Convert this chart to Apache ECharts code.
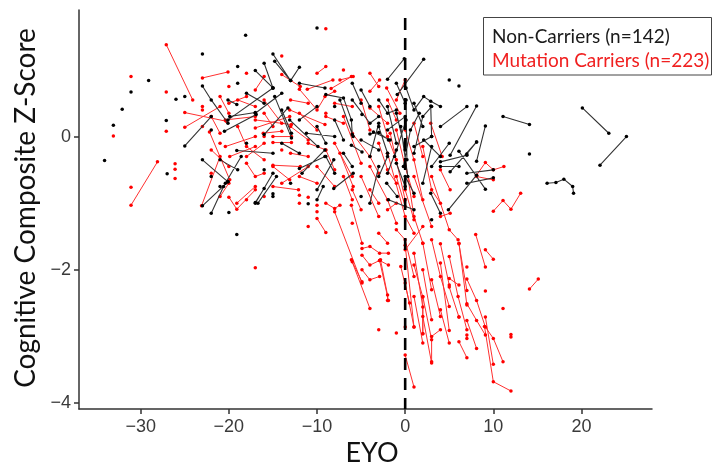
<!DOCTYPE html>
<html><head><meta charset="utf-8">
<script src="https://cdn.jsdelivr.net/npm/echarts@6/dist/echarts.min.js"></script>
<style>html,body{margin:0;padding:0;background:#fff}#c{width:713px;height:467px}</style>
</head><body><div id="c"></div>
<script>
const xTicks = [-30, -20, -10, 0, 10, 20];
const yTicks = [-4, -2, 0];
const legendLabels = ['Non-Carriers (n=142)', 'Mutation Carriers (n=223)'];
const xTitle = 'EYO';
const yTitle = 'Cognitive Composite Z-Score';
const onsetLine = [[0, 1.78], [0, -4.09]];

// Each track: one participant's visits [EYO, z]
const nonCarrierTracks = [
 [[-34.1,-0.36]],[[-33.1,0.17]],[[-32.1,0.41]],[[-31.1,0.67]],[[-29.1,0.84]],
 [[-27.1,0.24]],[[-26.0,0.56]],[[-25.0,0.60]],[[-27.0,-0.56]],[[-23.0,1.24]],
 [[-19.0,1.05]],[[-18.1,1.52]],[[-10.0,1.63]],
 [[-25.0,-0.14],[-22.0,0.30]],
 [[-23.0,0.76],[-22.0,0.55],[-20.1,0.20]],
 [[-23.0,-0.35],[-20.1,-0.68]],
 [[-23.0,-1.04],[-20.1,-0.68]],
 [[-22.0,-1.15],[-20.6,-0.75]],
 [[-20.0,-1.14]],[[-19.1,-1.47]],
 [[-17.0,-0.99],[-16.0,-0.78]],
 [[-15.0,-0.86]],[[-15.0,-0.90]],[[-11.0,-1.01]],
 [[-10.0,-0.95],[-9.3,-0.75]],
 [[-17.0,0.99],[-15.0,0.73]],
 [[-15.0,1.24],[-13.0,0.84]],
 [[-14.8,1.13],[-13.0,0.84]],
 [[-16.0,1.10],[-15.0,0.73]],
 [[-13.0,0.84],[-12.0,1.04]],
 [[-20.1,0.25],[-15.0,0.73]],
 [[-12.0,0.80],[-9.1,0.73]],
 [[-16.0,0.03],[-13.3,0.43]],
 [[-19.1,-0.21],[-15.0,-0.25]],
 [[-11.2,0.05],[-8.0,0.0]],
 [[-16.7,-1.0],[-14.6,-0.6]],
 [[-20.5,0.08],[-16.9,0.33]],
 [[-19.9,0.30],[-17.0,0.36]],
 [[-14.8,0.60],[-12.9,-0.02]],
 [[-17.0,-1.0],[-15.0,-0.55]],
 [[-9.0,0.63],[-7.0,0.58],[-6.1,0.25],[-6.0,0.03]],
 [[-10.0,-0.80],[-8.1,-0.35]],
 [[-8.1,-0.78],[-5.9,-0.55]],
 [[-4.9,0.33]],
 [[-4.0,0.04],[-3.0,0.06],[-1.9,-0.05]],
 [[-4.0,-1.0],[-3.0,-0.45]],
 [[-2.1,-0.70],[-0.9,-0.90]],
 [[-2.0,0.86],[-0.1,1.17]],
 [[-0.9,0.63],[2.1,1.16]],
 [[0.1,0.73],[1.0,0.40],[2.1,0.60],[2.9,0.53],[4.0,0.45]],
 [[2.9,0.46],[3.0,0.0]],
 [[4.0,0.15],[7.0,0.45]],
 [[5.1,-0.28],[8.1,0.46]],
 [[8.1,-0.37],[9.1,0.16]],
 [[6.1,0.76]],
 [[11.1,0.30],[14.1,0.18]],
 [[14.1,-0.26]],
 [[20.1,0.43],[23.1,0.05]],
 [[22.1,-0.43],[25.1,0.0]],
 [[16.1,-0.70],[17.1,-0.69],[18.0,-0.64],[19.0,-0.75],[19.1,-0.85]],
 [[5.1,-0.53],[8.1,-0.08]],
 [[6.1,-0.22],[9.1,-0.79]],
 [[7.0,-0.55],[10.0,-0.50]],
 [[7.0,-0.70],[10.0,-0.62]],
 [[4.9,-1.10],[8.1,-0.58]],
 [[4.0,-0.45],[6.1,-0.45]],
 [[2.9,-0.85],[4.0,-1.15]],
 [[-1.9,-0.95],[1.0,-1.10]],
 [[7.0,-0.26],[8.1,-0.08]],
 [[-7.4,0.55],[-5.9,0.0]],
 [[-3.6,0.07],[-1.7,-0.05]],
 [[-6.1,-0.13],[-4.9,-0.23]],
 [[1.0,-0.15],[3.0,0.0]],
 [[2.1,-0.05],[4.0,-0.30]],
 [[4.0,-0.38],[7.0,-0.28]],
 [[-20.1,0.55],[-19.1,0.48]],
 [[-17.0,0.35],[-14.0,0.65]],
 [[-12.0,-0.48],[-9.1,-0.30]],
 [[-20.4,-0.70],[-18.6,-0.30]],
 [[-11.7,-0.55],[-9.1,-0.20]],
 [[-13.1,0.25],[-9.9,-0.15]],
 [[-14.0,0.40],[-12.9,0.05]],
 [[-1.0,0.35],[0.0,-0.20]],
 [[-0.5,0.15],[0.3,-0.60]],
 [[-2.0,0.45],[-1.0,-0.10]],
 [[0.1,0.55],[0.2,-0.35]],
 [[-1.2,-0.30],[0.1,0.25]],
 [[-0.2,-0.45],[0.6,0.10],[1.6,0.35]],
 [[1.0,-0.25],[2.0,0.30],[3.0,0.45]],
 [[2.0,-0.70],[3.0,-0.15]],
 [[-3.0,0.15],[-2.0,-0.25]],
 [[-4.0,-0.30],[-3.0,0.20]],
 [[-6.0,0.80],[-5.0,0.50]],
 [[-8.0,0.25],[-7.0,-0.05]],
 [[-9.0,-0.30],[-8.0,-0.55]],
 [[-3.0,-0.60],[-2.0,-0.30]],
 [[0.0,-0.60],[1.0,-0.85]],
 [[-1.0,-0.40],[0.0,-0.75]],
 [[-6.0,0.55],[-4.0,0.20],[-3.0,0.30]],
 [[-5.0,0.70],[-4.0,0.45]],
 [[-3.0,0.55],[-2.0,0.35],[-1.0,0.40]],
 [[-2.0,0.10],[0.0,0.30]],
 [[-1.0,0.80],[0.0,0.50]],
 [[-12.0,0.25],[-10.0,0.45]],
 [[-14.0,-0.10],[-12.0,-0.25]],
 [[-10.0,0.15],[-9.0,-0.10]],
 [[-7.0,-0.25],[-6.0,-0.45]],
 [[-5.0,-0.05],[-3.0,-0.20]],
 [[-18.0,0.65],[-16.0,0.50]],
 [[-21.0,-0.35],[-19.0,-0.50]],
 [[-2.0,-0.55],[-1.0,-0.20]],
 [[1.0,0.50],[2.0,0.15]],
 [[3.0,-0.45],[5.0,-0.10]],
 [[-22.0,-0.60]],[[-21.0,-0.75]],[[-22.0,0.10]],[[-19.0,0.80]],[[-18.0,-0.10]],
 [[-16.0,-0.50]],[[-13.0,-0.70]],[[-8.0,0.45]],[[-5.0,-0.90]],[[3.0,-1.25]],[[5.0,0.85]]
];

const carrierTracks = [
 [[-27.1,1.38],[-24.1,0.55]],
 [[-31.1,0.90]],[[-27.1,0.67]],[[-33.1,0.01]],[[-27.1,0.08]],
 [[-31.1,-1.03],[-28.1,-0.38]],
 [[-31.1,-0.76]],[[-26.1,-0.41]],[[-26.1,-0.49]],[[-26.1,-0.63]],
 [[-25.0,0.36],[-20.3,0.23]],
 [[-25.0,0.14],[-21.0,0.45]],
 [[-23.0,0.88],[-20.1,0.97]],
 [[-14.0,1.21]],[[-9.0,1.62]],
 [[-23.1,-1.04],[-21.0,-0.30]],
 [[-22.2,0.07],[-19.9,-0.65]],
 [[-20.0,-0.91],[-19.1,-1.09],[-17.0,-0.80]],
 [[-16.0,-0.90]],[[-17.0,-1.97]],[[-12.0,-0.88]],[[-11.0,-0.91]],[[-11.0,-1.35]],
 [[-10.0,-1.03]],[[-10.0,-1.13]],
 [[-10.0,-1.23],[-9.0,-1.44]],
 [[-9.0,-1.0],[-8.0,-1.08],[-7.4,-1.03]],
 [[-20.4,0.25],[-17.0,0.30]],
 [[-17.0,0.25],[-12.9,0.18]],
 [[-13.1,0.40],[-9.1,0.18]],
 [[-15.0,0.0],[-12.9,0.0]],
 [[-15.0,-0.09],[-12.9,-0.09]],
 [[-20.4,-0.15],[-17.0,0.0]],
 [[-15.0,-0.43],[-11.9,-0.45]],
 [[-14.0,-0.70],[-11.0,-0.45]],
 [[-15.0,-0.75],[-12.1,-0.80]],
 [[-19.1,-1.0],[-17.0,-0.75]],
 [[-12.0,0.71],[-10.0,0.40],[-9.1,0.60],[-8.0,0.68]],
 [[-11.1,0.71],[-8.2,0.85]],
 [[-8.4,0.72],[-6.1,0.90]],
 [[-4.0,0.68],[-2.9,0.85]],
 [[-14.0,0.93],[-11.9,0.75]],
 [[-19.9,-0.30],[-17.0,-0.15]],
 [[-16.1,0.05],[-14.0,0.08]],
 [[-17.0,0.13],[-13.1,0.30]],
 [[-15.0,-0.45],[-13.1,-0.65]],
 [[-2.1,0.73],[-0.6,0.35]],
 [[-4.0,0.43],[-2.0,0.20]],
 [[8.1,-0.58],[9.1,-0.39],[10.0,-0.50],[11.2,-0.45]],
 [[8.1,-0.60],[10.0,-0.65]],
 [[10.0,-1.12],[11.1,-0.96],[12.0,-1.09],[13.1,-0.85]],
 [[8.0,-1.47],[9.1,-1.96]],
 [[9.1,-1.70],[10.0,-1.84]],
 [[14.1,-2.29],[15.1,-2.14]],
 [[9.1,-2.32]],[[11.1,-2.58]],
 [[12.0,-2.97],[12.0,-3.01]],
 [[7.0,-2.14],[8.1,-2.46],[9.1,-2.86],[10.0,-3.03],[11.1,-3.38]],
 [[7.0,-2.51],[8.1,-2.76],[9.1,-2.98]],
 [[9.1,-2.71],[10.0,-3.42]],
 [[9.0,-2.85],[10.0,-3.68],[12.0,-3.82]],
 [[6.1,-1.61],[7.0,-2.31]],
 [[7.0,-1.96]],
 [[7.0,-2.76],[8.1,-3.18]],
 [[6.1,-2.71]],
 [[6.1,-3.08],[7.0,-3.32]],
 [[7.0,-2.98],[7.0,-3.03]],
 [[0.0,-3.28],[1.0,-3.76]],
 [[-3.0,-2.90]],[[-1.0,-2.95]],
 [[4.0,-1.61],[5.0,-2.23]],
 [[4.0,-1.90],[5.0,-2.91]],
 [[2.0,-1.6],[3.0,-2.3]],
 [[2.0,-2.0],[3.0,-2.75]],
 [[2.0,-2.4],[3.0,-3.05],[3.0,-3.38]],
 [[1.0,-1.75],[2.0,-2.56],[2.0,-2.96]],
 [[0.0,-1.63],[1.0,-2.86]],
 [[-8.0,-1.13],[-4.9,-2.20]],
 [[-6.1,-1.03],[-4.9,-1.60]],
 [[-6.1,-1.85],[-4.0,-2.58]],
 [[-4.9,-1.68],[-4.0,-1.65],[-2.9,-1.75],[-1.9,-1.75]],
 [[-4.9,-1.78],[-4.0,-1.93],[-2.9,-1.86],[-1.9,-1.93]],
 [[-4.9,-2.0],[-4.0,-2.15],[-2.9,-2.10]],
 [[-2.9,-1.86],[-1.9,-2.46]],
 [[-2.8,-1.85],[-2.0,-2.38],[-2.0,-2.46]],
 [[-6.0,-1.88],[-4.9,-2.18]],
 [[0.0,-1.70],[2.0,-1.35]],
 [[6.1,-1.60],[7.0,-2.53]],
 [[5.0,-2.13],[6.1,-2.23]],
 [[1.0,-1.93],[2.0,-2.41],[2.0,-2.96]],
 [[0.0,-2.2],[1.0,-2.86]],
 [[0.0,-2.86]],
 [[3.0,-3.0],[4.0,-2.9]],
 [[5.0,-2.26],[6.1,-2.71]],
 [[-7.4,-0.25],[-5.9,-0.75]],
 [[-1.7,0.05],[0.0,-0.95]],
 [[-7.4,0.85],[-5.9,0.90]],
 [[2.9,0.20],[4.2,-0.30]],
 [[4.0,-0.50],[5.1,-0.80]],
 [[4.0,-1.20],[5.1,-1.15]],
 [[-23.0,0.45]],[[-23.0,0.40]],
 [[-8.0,-0.10],[-6.0,-0.60]],
 [[-7.0,0.30],[-5.0,-0.40]],
 [[-6.0,0.05],[-4.0,-0.30],[-3.0,-0.55]],
 [[-5.0,0.55],[-4.0,0.10]],
 [[-5.0,-0.60],[-3.0,-1.20]],
 [[-4.0,-0.45],[-2.0,-0.95],[-1.0,-1.30]],
 [[-3.0,-0.10],[-2.0,-0.50],[-1.0,-0.70]],
 [[-3.0,0.45],[-2.0,0.0],[-1.0,-0.35]],
 [[-2.0,-0.25],[0.0,-1.20],[1.0,-1.45]],
 [[-1.0,0.10],[0.0,-0.45],[1.0,-0.90]],
 [[-1.0,-0.60],[0.0,-1.05]],
 [[0.0,0.10],[1.0,-0.35],[2.0,-0.95]],
 [[0.0,-0.35],[1.0,-1.20],[2.0,-1.60]],
 [[1.0,0.20],[2.0,-0.30]],
 [[1.0,-0.60],[3.0,-1.35]],
 [[2.0,-0.15],[3.0,-0.80],[4.0,-1.0]],
 [[3.0,-0.60],[5.0,-1.40],[6.0,-1.55]],
 [[-6.0,-0.80],[-5.0,-1.10]],
 [[-7.0,-0.60],[-6.0,-0.95]],
 [[-2.0,0.55],[-1.0,0.25]],
 [[-9.0,0.30],[-7.0,0.20]],
 [[-9.0,-0.20],[-8.0,-0.50]],
 [[-8.0,0.50],[-6.0,0.45]],
 [[-1.0,0.55],[0.0,0.85]],
 [[-4.0,0.95],[-3.0,0.75]],
 [[-3.0,-1.45],[-2.0,-1.60]],
 [[-1.0,-1.40],[0.0,-1.55],[1.0,-2.10]],
 [[1.0,-2.40],[2.0,-3.10]],
 [[2.0,-2.70],[3.0,-3.40]],
 [[-0.5,-1.95],[0.5,-2.50]],
 [[3.0,-1.55],[4.0,-2.10],[5.0,-2.55]],
 [[4.0,-2.60],[5.0,-3.10]],
 [[5.0,-1.80],[6.0,-2.40],[7.0,-2.90]],
 [[3.0,-2.15],[4.0,-2.70]],
 [[-22.0,0.30],[-21.0,0.05]],
 [[-22.0,-0.20],[-20.0,-0.45]],
 [[-21.0,0.60],[-20.0,0.35]],
 [[-21.0,-0.90],[-20.0,-0.70]],
 [[-19.0,0.55],[-17.0,0.45]],
 [[-19.0,0.15],[-18.0,-0.15],[-16.0,-0.35]],
 [[-18.0,-0.40],[-17.0,-0.60],[-16.0,-0.55]],
 [[-17.0,0.70],[-16.0,0.90]],
 [[-16.0,0.55],[-14.0,0.20]],
 [[-13.0,-0.25],[-11.0,-0.30]],
 [[-12.0,0.35],[-10.0,0.10]],
 [[-11.0,-0.10],[-9.0,-0.20]],
 [[-10.0,-0.45],[-8.0,-0.75]],
 [[-12.0,-0.60],[-10.0,-0.70]],
 [[-13.0,0.55],[-11.0,0.50]],
 [[-10.0,0.95],[-9.0,1.05]],
 [[-20.0,0.50],[-18.0,0.60]],
 [[-16.0,0.35],[-15.0,0.15]],
 [[-13.0,0.15],[-11.0,-0.05]],
 [[-18.0,-0.30],[-16.0,-0.10]],
 [[-4.0,-0.80],[-3.0,-1.00]],
 [[-2.0,-1.10],[-1.0,-1.00]],
 [[0.0,-0.80],[1.0,-1.25]],
 [[-23.0,0.15]],[[-22.0,-0.55]],[[-20.0,0.75]],[[-18.0,0.95]],[[-16.0,0.00]],
 [[-14.0,-0.20]],[[-12.0,-1.00]],[[-9.0,0.35]],[[-7.0,1.00]],[[-6.0,-1.30]],
 [[-18.0,-0.95]],[[-21.0,-0.10]]
];

function toSeriesData(tracks) {
  const out = [];
  tracks.forEach(t => { t.forEach(p => out.push(p)); out.push(['-', '-']); });
  return out;
}
const fmt = v => String(v).replace('-', '\u2212');

const chart = echarts.init(document.getElementById('c'), null, {renderer: 'canvas'});
const axisCol = '#333';
chart.setOption({
  animation: false,
  backgroundColor: '#fff',
  grid: {left: 79, right: 61, top: 10, bottom: 58, containLabel: false, outerBoundsMode: 'none'},
  xAxis: {
    type: 'value', min: -37, max: 28,
    axisLine: {show: true, onZero: false, lineStyle: {color: axisCol, width: 1.5}},
    axisTick: {show: true, length: 5, customValues: xTicks, lineStyle: {color: axisCol, width: 1.5}},
    axisLabel: {customValues: xTicks, formatter: fmt, fontSize: 18, color: '#3a3a3a', fontFamily: 'Liberation Sans', margin: 9},
    splitLine: {show: false}
  },
  yAxis: {
    type: 'value', min: -4.09, max: 1.9,
    axisLine: {show: true, onZero: false, lineStyle: {color: axisCol, width: 1.5}},
    axisTick: {show: true, length: 5, customValues: yTicks, lineStyle: {color: axisCol, width: 1.5}},
    axisLabel: {customValues: yTicks, formatter: fmt, fontSize: 18, color: '#3a3a3a', fontFamily: 'Liberation Sans', margin: 8},
    splitLine: {show: false}
  },
  series: [
    {type: 'line', name: legendLabels[1], data: toSeriesData(carrierTracks), connectNulls: false,
     symbol: 'circle', symbolSize: 3.5, showSymbol: true, showAllSymbol: true, silent: true,
     itemStyle: {color: '#ff0000'}, lineStyle: {color: '#ff3030', width: 1}, z: 2},
    {type: 'line', name: legendLabels[0], data: toSeriesData(nonCarrierTracks), connectNulls: false,
     symbol: 'circle', symbolSize: 3.5, showSymbol: true, showAllSymbol: true, silent: true,
     itemStyle: {color: '#000'}, lineStyle: {color: '#333', width: 1.1}, z: 3},
    {type: 'line', data: onsetLine, symbol: 'none', silent: true,
     lineStyle: {color: '#000', width: 2.6, type: [12, 8]}, z: 4}
  ],
  graphic: [
    {type: 'rect', shape: {x: 483.5, y: 17.5, width: 228, height: 57.5},
     style: {fill: '#fff', stroke: '#444', lineWidth: 1}, z: 10},
    {type: 'text', x: 492, y: 37, z: 11,
     style: {text: legendLabels[0], font: '19px Lato', fill: '#1a1a1a', textVerticalAlign: 'middle', verticalAlign: 'middle'}},
    {type: 'text', x: 492, y: 61, z: 11,
     style: {text: legendLabels[1], font: '19px Lato', fill: '#f02020', textVerticalAlign: 'middle', verticalAlign: 'middle'}},
    {type: 'text', x: 372, y: 453, z: 11,
     style: {text: xTitle, font: '27px Lato', fill: '#111', textAlign: 'center', align: 'center', textVerticalAlign: 'middle', verticalAlign: 'middle'}},
    {type: 'text', x: 26, y: 208, rotation: Math.PI / 2, z: 11,
     style: {text: yTitle, font: '28px Lato', fill: '#111', textAlign: 'center', align: 'center', textVerticalAlign: 'middle', verticalAlign: 'middle'}}
  ]
});
</script></body></html>
